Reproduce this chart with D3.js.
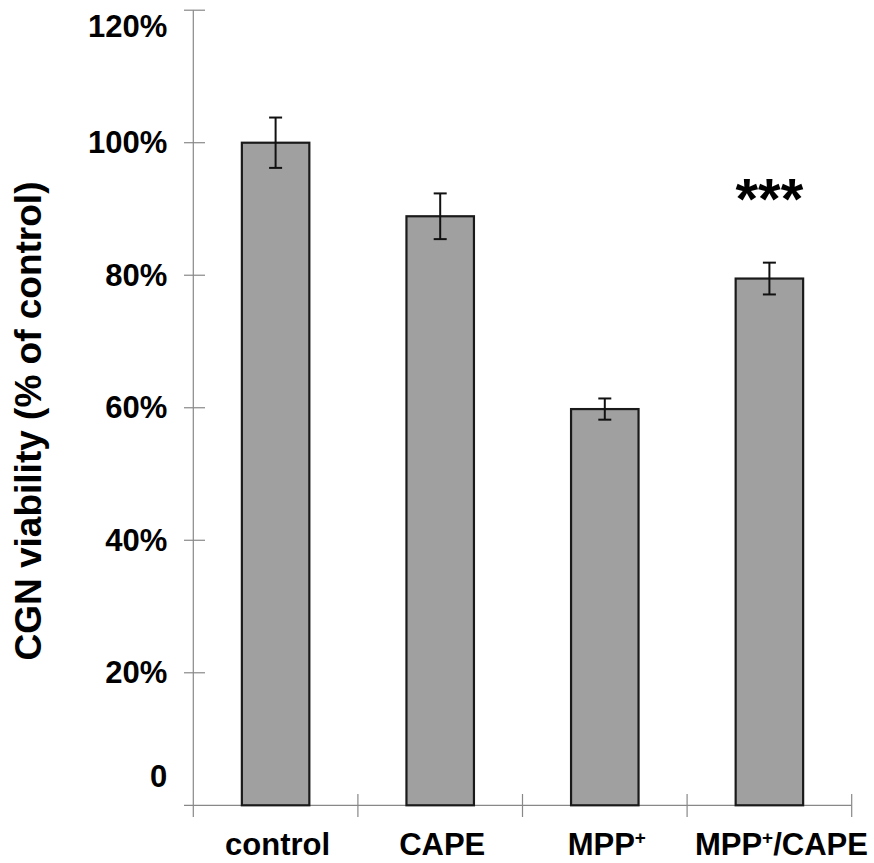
<!DOCTYPE html>
<html>
<head>
<meta charset="utf-8">
<script src="https://cdn.jsdelivr.net/npm/d3@7"></script>
<style>
  body { margin: 0; background: #fff; }
  text { font-family: "Liberation Sans", Arial, sans-serif; font-weight: bold; fill: #000; }
</style>
</head>
<body>
<div id="chart"></div>
<script>
var categories = ["control", "CAPE", "MPP+", "MPP+/CAPE"];
var viability = [100, 88.9, 59.8, 79.5];
var errors = [3.8, 3.45, 1.6, 2.4];
var stars = ["", "", "", "***"];
var yTicks = [0, 20, 40, 60, 80, 100, 120];

var W = 874, H = 863;

var svg = d3.select("#chart")
    .append("svg")
    .attr("width", W)
    .attr("height", H);

var y = d3.scaleLinear()
    .domain([0, 120])
    .range([805.3, 10.2]);

var x = d3.scaleBand()
    .domain(categories)
    .range([193.3, 851.7])
    .paddingInner(0.59)
    .paddingOuter(0.295);

var step = x.step();

// y axis
var yAxis = svg.append("g")
    .attr("transform", "translate(193.3,0)")
    .call(d3.axisLeft(y).tickValues(yTicks).tickSize(0)
        .tickFormat(d => d === 0 ? "0" : d + "%"));
yAxis.select(".domain").remove();
yAxis.selectAll("text")
    .attr("x", -26)
    .attr("dy", function(d) { return d === 120 ? "0.85em" : d === 0 ? "-0.6em" : "0.32em"; })
    .style("font-size", "31px")
    .style("font-family", "'Liberation Sans', Arial, sans-serif");

svg.append("line")
    .attr("x1", 193.3).attr("x2", 193.3)
    .attr("y1", y(120)).attr("y2", 817)
    .attr("stroke", "#888").attr("stroke-width", 1.2);

svg.selectAll(".ytick")
    .data(yTicks.filter(d => d > 0))
    .enter().append("line")
    .attr("x1", 184).attr("x2", 205)
    .attr("y1", d => y(d)).attr("y2", d => y(d))
    .attr("stroke", "#888").attr("stroke-width", 1.2);

// x axis
svg.append("line")
    .attr("x1", 184).attr("x2", 851.7)
    .attr("y1", y(0)).attr("y2", y(0))
    .attr("stroke", "#888").attr("stroke-width", 1.2);

svg.selectAll(".xtick")
    .data(categories)
    .enter().append("line")
    .attr("x1", d => x(d) + x.bandwidth() / 2 + step / 2)
    .attr("x2", d => x(d) + x.bandwidth() / 2 + step / 2)
    .attr("y1", 794).attr("y2", 817)
    .attr("stroke", "#888").attr("stroke-width", 1.2);

// bars
svg.selectAll(".bar")
    .data(categories)
    .enter().append("rect")
    .attr("x", d => x(d))
    .attr("y", (d, i) => y(viability[i]))
    .attr("width", x.bandwidth())
    .attr("height", (d, i) => y(0) - y(viability[i]))
    .attr("fill", "#a0a0a0")
    .attr("stroke", "#1a1a1a")
    .attr("stroke-width", 2.2);

// error bars
var eb = svg.selectAll(".err")
    .data(categories)
    .enter().append("g")
    .attr("stroke", "#111")
    .attr("stroke-width", 2);
eb.append("line")
    .attr("x1", d => x(d) + x.bandwidth() / 2)
    .attr("x2", d => x(d) + x.bandwidth() / 2)
    .attr("y1", (d, i) => y(viability[i] + errors[i]))
    .attr("y2", (d, i) => y(viability[i] - errors[i]));
eb.append("line")
    .attr("x1", d => x(d) + x.bandwidth() / 2 - 6.5)
    .attr("x2", d => x(d) + x.bandwidth() / 2 + 6.5)
    .attr("y1", (d, i) => y(viability[i] + errors[i]))
    .attr("y2", (d, i) => y(viability[i] + errors[i]));
eb.append("line")
    .attr("x1", d => x(d) + x.bandwidth() / 2 - 6.5)
    .attr("x2", d => x(d) + x.bandwidth() / 2 + 6.5)
    .attr("y1", (d, i) => y(viability[i] - errors[i]))
    .attr("y2", (d, i) => y(viability[i] - errors[i]));

// significance stars
svg.selectAll(".star")
    .data(categories)
    .enter().append("text")
    .attr("x", d => x(d) + x.bandwidth() / 2)
    .attr("y", (d, i) => y(viability[i] + errors[i]) - 44)
    .attr("text-anchor", "middle")
    .style("font-size", "58px")
    .text((d, i) => stars[i]);

// category labels with superscript +
var lab = svg.selectAll(".cat")
    .data(categories)
    .enter().append("text")
    .attr("x", (d, i) => x(d) + x.bandwidth() / 2 + (i === 3 ? 12 : 2))
    .attr("y", 855)
    .attr("text-anchor", "middle")
    .style("font-size", "31px");
lab.each(function(d) {
    var t = d3.select(this);
    d.split(/(\+)/).forEach(function(part) {
        if (part === "") return;
        var ts = t.append("tspan").text(part);
        if (part === "+") ts.attr("baseline-shift", "11").style("font-size", "19px");
    });
});

// y axis title
svg.append("text")
    .attr("transform", "translate(41," + y(58) + ") rotate(-90)")
    .attr("text-anchor", "middle")
    .style("font-size", "37px")
    .text("CGN viability (% of control)");
</script>
</body>
</html>
